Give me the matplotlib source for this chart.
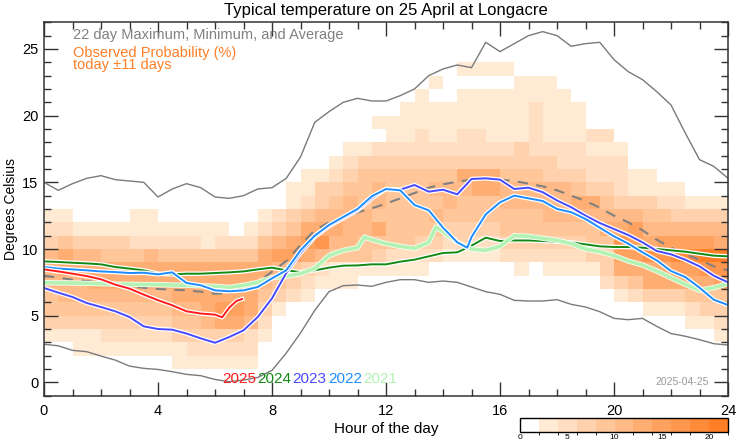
import numpy as np
import matplotlib
matplotlib.use("Agg")
import matplotlib.pyplot as plt
import matplotlib.patheffects as pe
from matplotlib.colors import ListedColormap, BoundaryNorm

plt.rcParams['font.family'] = ['Liberation Sans', 'DejaVu Sans']

# observed probability, half-hour columns x 1 degree bins, read as 2% colour levels
# col_start = lowest coloured degree bin, col_levels = level of each bin going up
col_start = [3, 3, 2, 2, 2, 2, 2, 2, 2, 1, 1, 1, 1, 1, 1, 3,
             5, 6, 6, 7, 7, 7, 8, 8, 8, 8, 8, 9, 9, 9, 9, 9,
             9, 8, 9, 8, 8, 8, 8, 7, 6, 6, 5, 5, 5, 4, 4, 3]
col_levels = [
    "1344555321", "1345566421", "1134556531", "1134566531",
    "1234566431", "1234566431", "12345664211", "12345665211",
    "1234566421", "11345666421", "12345666421", "12356666411",
    "12367666421", "1236766642", "12256666421", "1234566421",
    "13457532", "234764311", "1236764211", "125865331",
    "1145654321", "11455554321", "1445544431", "134645543201",
    "124444443211", "1244444432111", "12344444322111", "23454543211101",
    "123455432111", "133445632211101", "123446632211101", "123446632111101",
    "234455432111101", "123445543311111", "23445543222211", "123455533211111",
    "12345553221111", "1234564322111", "13445632212", "233465432212",
    "136786532221", "2467775311", "13668654311", "1366875421",
    "1367975321", "1246797531", "13468a7531", "123478a6531",
]

hours = [h / 2 for h in range(49)]
t_max = [15.0, 14.4, 14.9, 15.3, 15.5, 15.2, 15.1, 15.0, 13.9, 14.5,
         14.9, 14.6, 13.9, 13.8, 14.0, 14.5, 14.6, 15.3, 16.9, 19.5,
         20.3, 21.0, 21.3, 21.1, 21.1, 21.5, 22.0, 23.0, 23.5, 23.8,
         23.6, 25.5, 24.8, 25.4, 26.0, 26.3, 26.0, 25.2, 25.4, 25.5,
         24.2, 23.3, 22.7, 21.8, 20.8, 18.7, 16.7, 16.2, 15.3]
t_min = [2.86, 2.74, 2.4, 2.3, 1.97, 1.67, 1.22, 1.05, 0.97, 0.8,
         0.6, 0.5, 0.22, 0.05, 0.17, 0.37, 0.9, 2.2, 3.7, 5.4,
         6.8, 7.25, 7.3, 7.2, 7.5, 7.7, 7.7, 7.5, 7.6, 7.5,
         7.15, 6.8, 6.6, 6.15, 6.1, 6.1, 6.2, 5.85, 5.65, 5.3,
         4.8, 4.7, 4.8, 4.2, 3.66, 3.46, 3.2, 2.9, 2.8]
t_avg = [8.0, 7.85, 7.7, 7.6, 7.5, 7.35, 7.2, 7.1, 7.0, 6.95,
         6.9, 6.8, 6.65, 6.7, 7.0, 7.5, 8.3, 9.1, 10.3, 11.4,
         12.0, 12.4, 12.75, 13.05, 13.4, 13.8, 14.2, 14.6, 14.85, 15.05,
         15.2, 15.25, 15.2, 15.1, 14.9, 14.7, 14.4, 14.0, 13.6, 13.1,
         12.5, 12.0, 11.4, 10.7, 10.1, 9.6, 9.2, 8.7, 8.4]

h2025 = [0, 0.5, 1, 1.5, 2, 2.5, 3, 3.5, 4, 4.5, 5, 5.5, 6, 6.25, 6.5, 6.75, 6.95]
t2025 = [8.47, 8.32, 8.15, 7.97, 7.73, 7.33, 7.03, 6.58, 6.16, 5.78, 5.33, 5.16,
         5.08, 4.88, 5.6, 6.1, 6.25]

t2024 = [9.07, 9.03, 8.97, 8.92, 8.85, 8.65, 8.53, 8.4, 8.15, 8.1,
         8.15, 8.15, 8.2, 8.25, 8.32, 8.47, 8.6, 8.4, 8.27, 8.4,
         8.6, 8.75, 8.77, 8.85, 8.85, 9.05, 9.2, 9.45, 9.7, 9.75,
         10.25, 10.85, 10.6, 10.64, 10.64, 10.6, 10.55, 10.5, 10.35, 10.2,
         10.15, 10.15, 10.1, 10.0, 9.9, 9.8, 9.65, 9.5, 9.45]

t2023 = [7.08, 6.73, 6.4, 5.95, 5.65, 5.33, 4.9, 4.2, 4.0, 3.95,
         3.66, 3.3, 2.97, 3.4, 3.9, 4.9, 6.3, 8.2, 9.7, 10.9,
         11.7, 12.3, 12.9, 13.8, 14.5, 14.45, 14.8, 14.3, 14.45, 14.1,
         15.25, 15.3, 15.2, 14.5, 14.6, 14.26, 13.64, 13.13, 12.5, 11.95,
         11.5, 11.05, 10.5, 9.85, 9.6, 9.2, 8.7, 8.0, 7.5]

h2022 = [0, 0.5, 1, 1.5, 2, 2.5, 3, 3.5, 4, 4.5, 5, 5.5, 6, 6.5, 7, 7.5,
         8, 8.5, 9, 9.5, 10, 10.5, 11, 11.5, 12, 12.5, 13, 13.5, 14, 14.5,
         14.85, 15, 15.5, 16, 16.5, 17, 17.5, 18, 18.5, 19, 19.5, 20, 20.5,
         21, 21.5, 22, 22.5, 23, 23.5, 24]
t2022 = [8.65, 8.53, 8.47, 8.4, 8.32, 8.27, 8.2, 8.22, 8.1, 8.25, 7.45, 7.28,
         6.9, 6.83, 6.9, 7.15, 7.8, 8.4, 9.9, 11.0, 11.8, 12.4, 13.0, 13.95,
         14.5, 14.4, 13.3, 12.9, 11.6, 10.5, 10.1, 10.9, 12.6, 13.5, 14.0,
         13.8, 13.6, 13.0, 12.76, 12.25, 11.6, 10.95, 10.4, 9.75, 9.15, 8.35,
         7.9, 7.1, 6.2, 5.8]

h2021 = [0, 0.5, 1, 1.5, 2, 2.5, 3, 3.5, 4, 4.5, 5, 5.5, 6, 6.5, 7, 7.5,
         8, 8.5, 9, 9.5, 10, 10.5, 11, 11.25, 11.5, 12, 12.5, 13, 13.5, 13.75,
         14, 14.5, 15, 15.5, 16, 16.5, 17, 17.5, 18, 18.5, 19, 19.5, 20, 20.5,
         21, 21.5, 22, 22.5, 23, 23.5, 24]
t2021 = [7.48, 7.46, 7.45, 7.42, 7.4, 7.37, 7.35, 7.34, 7.33, 7.3, 7.28, 7.24,
         7.2, 7.12, 7.28, 7.5, 7.85, 7.97, 8.15, 8.55, 9.5, 9.9, 10.1, 10.9,
         10.7, 10.4, 10.2, 10.05, 10.5, 11.65, 11.3, 10.5, 10.0, 9.9, 10.2,
         11.0, 10.95, 10.8, 10.65, 10.4, 10.0, 9.8, 9.5, 9.1, 8.8, 8.35, 7.85,
         7.35, 6.9, 7.1, 7.4]

year_names = ["2025", "2024", "2023", "2022", "2021"]
year_colors = ["#ff1c1c", "#138a13", "#4848ff", "#1e8cff", "#b4f2b4"]

# build probability grid (percent, middle of each 2% level)
prob = np.zeros((24, 48))
for c in range(48):
    for k, ch in enumerate(col_levels[c]):
        lev = int(ch, 16)
        if lev > 0:
            prob[col_start[c] + k, c] = 2 * lev + 1

pale = np.array([255, 234, 212]) / 255
dark = np.array([255, 126, 38]) / 255
shades = [tuple(pale + (dark - pale) * i / 9) for i in range(10)]
cmap = ListedColormap(["white"] + shades)
norm = BoundaryNorm(np.arange(0, 24, 2), cmap.N)

fig = plt.figure(figsize=(7.42, 4.45), dpi=100)
ax = fig.add_axes([44 / 742, 1 - 395.7 / 445, 684 / 742, 373.4 / 445])

xe = np.arange(0, 24.01, 0.5)
ye = np.arange(0, 25)
mesh = ax.pcolormesh(xe, ye, prob, cmap=cmap, norm=norm, zorder=1)

ax.plot(hours, t_max, color="#7a7a7a", lw=1.0, zorder=3)
ax.plot(hours, t_min, color="#7a7a7a", lw=1.0, zorder=3)
ax.plot(hours, t_avg, color="#808080", lw=1.5, dashes=(5, 4), zorder=3)

halo = [pe.withStroke(linewidth=3.2, foreground="white")]
ax.plot(hours, t2024, color=year_colors[1], lw=1.4, zorder=4, path_effects=halo)
ax.plot(h2021, t2021, color=year_colors[4], lw=2.6, zorder=4,
        path_effects=[pe.withStroke(linewidth=3.8, foreground="#f4fff4")])
ax.plot(hours, t2023, color=year_colors[2], lw=1.4, zorder=5, path_effects=halo)
ax.plot(h2022, t2022, color=year_colors[3], lw=1.4, zorder=5, path_effects=halo)
ax.plot(h2025, t2025, color=year_colors[0], lw=1.4, zorder=6, path_effects=halo)

ax.set_xlim(0, 24)
ax.set_ylim(-1, 27)
ax.set_xticks([0, 4, 8, 12, 16, 20, 24])
ax.set_xticks(range(25), minor=True)
ax.set_yticks([0, 5, 10, 15, 20, 25])
ax.set_yticks(range(-1, 28), minor=True)
ax.tick_params(which="both", direction="in", top=True, right=True,
               color="#333333", width=1.0, labelsize=10.5)
ax.tick_params(which="major", length=10)
ax.tick_params(which="minor", length=5)
ax.tick_params(axis="x", pad=6)
ax.tick_params(axis="y", pad=4)
for s in ax.spines.values():
    s.set_color("#333333")
    s.set_linewidth(1.1)
    s.set_zorder(10)

ax.set_title("Typical temperature on 25 April at Longacre", fontsize=12, pad=5)
ax.set_xlabel("Hour of the day", fontsize=11, labelpad=3)
ax.set_ylabel("Degrees Celsius", fontsize=10, labelpad=3)

ax.text(0.0424, 0.955, "22 day Maximum, Minimum, and Average", transform=ax.transAxes,
        fontsize=10.5, color="#808080", va="baseline")
ax.text(0.0424, 0.908, "Observed Probability (%)", transform=ax.transAxes,
        fontsize=10.5, color="#ff7f27", va="baseline")
ax.text(0.0424, 0.874, "today \u00b111 days", transform=ax.transAxes,
        fontsize=10.5, color="#ff7f27", va="baseline")

year_x = [222.7, 257.3, 292, 328.3, 363]
for name, col, px in zip(year_names, year_colors, year_x):
    ax.text((px - 44) / 684, 0.044, name, transform=ax.transAxes, fontsize=11,
            color=col, va="center", ha="left", zorder=8)

ax.text(0.972, 0.038, "2025-04-25", transform=ax.transAxes, fontsize=7.5,
        color="#999999", ha="right", va="center")

cax = fig.add_axes([520 / 742, 1 - 431.7 / 445, 208 / 742, 14 / 445])
cb = fig.colorbar(mesh, cax=cax, orientation="horizontal", ticks=[0, 5, 10, 15, 20])
cb.outline.set_linewidth(1.0)
cb.outline.set_edgecolor("black")
cax.tick_params(labelsize=6, length=0, pad=2)

fig.savefig("out.png", dpi=100)
